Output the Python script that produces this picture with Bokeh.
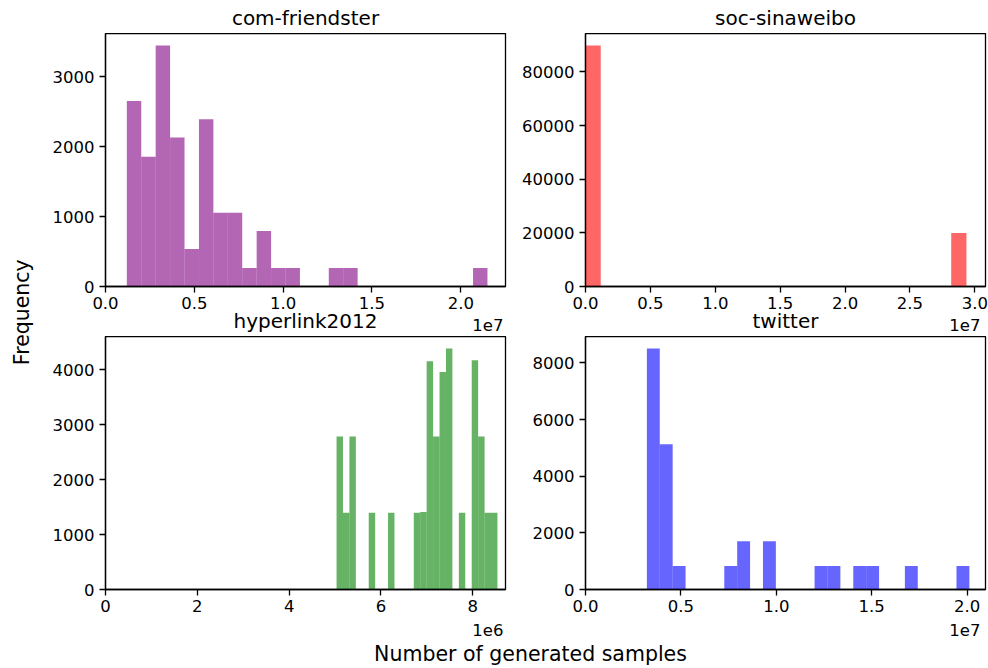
import numpy as np
from bokeh.plotting import figure
from bokeh.models import Range1d, FixedTicker, CustomJSTickFormatter, BasicTickFormatter
from bokeh.layouts import row, column
from bokeh.embed import file_html
from bokeh.resources import INLINE

FONT = "DejaVu Sans"

# ---------------- data ----------------
titles = ["com-friendster", "soc-sinaweibo", "hyperlink2012", "twitter"]
colors = ["purple", "red", "green", "blue"]

# histogram range (min / max sample) and bin counts (25 bins each)
friendster_min = 1.20e6
friendster_max = 2.150e7
friendster_counts = [2653, 1856, 3448, 2133, 536, 2392, 1057, 1057, 263, 794,
                     263, 263, 0, 0, 263, 263, 0, 0, 0, 0,
                     0, 0, 0, 0, 263]

sinaweibo_min = 0.0
sinaweibo_max = 2.935e7
sinaweibo_counts = [89840, 0, 0, 0, 0, 0, 0, 0, 0, 0,
                    0, 0, 0, 0, 0, 0, 0, 0, 0, 0,
                    0, 0, 0, 0, 19940]

hyperlink_min = 5.033e6
hyperlink_max = 8.538e6
hyperlink_counts = [2782, 1394, 2782, 0, 0, 1394, 0, 0, 1394, 0,
                    0, 0, 1394, 1412, 4152, 2782, 3958, 4383, 0, 1394,
                    0, 4170, 2782, 1394, 1394]

twitter_min = 3.217e6
twitter_max = 2.012e7
twitter_counts = [8508, 5128, 827, 0, 0, 0, 827, 1702, 0, 1702,
                  0, 0, 0, 827, 827, 0, 827, 827, 0, 0,
                  827, 0, 0, 0, 827]

# tick values
friendster_xticks = [0, 5e6, 1e7, 1.5e7, 2e7]
sinaweibo_xticks = [0, 5e6, 1e7, 1.5e7, 2e7, 2.5e7, 3e7]
hyperlink_xticks = [0, 2e6, 4e6, 6e6, 8e6]
twitter_xticks = [0, 5e6, 1e7, 1.5e7, 2e7]

friendster_yticks = [0, 1000, 2000, 3000]
sinaweibo_yticks = [0, 20000, 40000, 60000, 80000]
hyperlink_yticks = [0, 1000, 2000, 3000, 4000]
twitter_yticks = [0, 2000, 4000, 6000, 8000]

offsets = ["1e7", "1e7", "1e6", "1e7"]
scales = [1e7, 1e7, 1e6, 1e7]
decimals = [1, 1, 0, 1]

xlabel = "Number of generated samples"
ylabel = "Frequency"

TICK_FS = "16.5px"
TITLE_FS = "20px"
LABEL_FS = "20.5px"
FRAME_W, FRAME_H = 400, 253


def make_panel(lo, hi, counts, color, xticks, yticks, scale, dec, left, right):
    edges = np.linspace(lo, hi, len(counts) + 1)
    counts = np.asarray(counts, dtype=float)
    keep = counts > 0
    p = figure(frame_width=FRAME_W, frame_height=FRAME_H,
               min_border_left=left, min_border_right=right,
               min_border_top=0, min_border_bottom=30,
               x_range=Range1d(0, hi + 0.05 * (hi - lo)),
               y_range=Range1d(0, counts.max() * 1.05),
               toolbar_location=None, output_backend="svg")
    p.quad(left=edges[:-1][keep], right=edges[1:][keep],
           bottom=0, top=counts[keep],
           fill_color=color, fill_alpha=0.6, line_color=None)
    p.xgrid.visible = False
    p.ygrid.visible = False
    p.outline_line_color = "black"
    p.outline_line_width = 1.3
    p.outline_line_alpha = 1
    p.background_fill_color = "white"
    p.border_fill_color = None
    for ax in (p.xaxis[0], p.yaxis[0]):
        ax.axis_line_color = "black"
        ax.axis_line_width = 1.3
        ax.major_tick_line_color = "black"
        ax.major_tick_line_width = 1.3
        ax.major_tick_in = 0
        ax.major_tick_out = 6
        ax.minor_tick_in = 0
        ax.minor_tick_out = 0
        ax.major_label_text_font = FONT
        ax.major_label_text_font_size = TICK_FS
        ax.major_label_text_color = "black"
    p.xaxis[0].major_label_standoff = 4
    p.yaxis[0].major_label_standoff = 5
    p.xaxis[0].ticker = FixedTicker(ticks=xticks)
    p.yaxis[0].ticker = FixedTicker(ticks=yticks)
    p.xaxis[0].formatter = CustomJSTickFormatter(
        args=dict(s=scale, d=dec), code="return (tick / s).toFixed(d);")
    p.yaxis[0].formatter = BasicTickFormatter(use_scientific=False)
    return p


def text_fig(w, h, items, margin=None):
    """items: (x, y, text, size, align, angle) in pixels, y measured from the bottom,
    y being the vertical middle of the text."""
    kw = {}
    if margin is not None:
        kw["margin"] = margin
    f = figure(width=w, height=h, x_range=Range1d(0, w), y_range=Range1d(0, h),
               min_border=0, toolbar_location=None, output_backend="svg", **kw)
    f.axis.visible = False
    f.xgrid.visible = False
    f.ygrid.visible = False
    f.outline_line_color = None
    f.background_fill_color = None
    f.border_fill_color = None
    for (x, y, txt, size, align, ang) in items:
        f.text(x=[x], y=[y], text=[txt], angle=ang, text_align=align,
               text_baseline="middle", text_font={"value": FONT},
               text_font_size=size, text_color="black")
    return f


p1 = make_panel(friendster_min, friendster_max, friendster_counts, colors[0],
                friendster_xticks, friendster_yticks, scales[0], decimals[0], 65, 10)
p2 = make_panel(sinaweibo_min, sinaweibo_max, sinaweibo_counts, colors[1],
                sinaweibo_xticks, sinaweibo_yticks, scales[1], decimals[1], 70, 3)
p3 = make_panel(hyperlink_min, hyperlink_max, hyperlink_counts, colors[2],
                hyperlink_xticks, hyperlink_yticks, scales[2], decimals[2], 65, 10)
p4 = make_panel(twitter_min, twitter_max, twitter_counts, colors[3],
                twitter_xticks, twitter_yticks, scales[3], decimals[3], 70, 3)

W = 948
LX, RX = 265, 745          # centres of the two columns of frames
LR, RR = 463, 940          # right edges used by the offset texts

top_strip = text_fig(W, 33, [
    (LX, 15.6, titles[0], TITLE_FS, "center", 0.0),
    (RX, 15.6, titles[1], TITLE_FS, "center", 0.0),
])
# this strip overlaps the (transparent) lower border of the top row
mid_strip = text_fig(W, 29, [
    (LX, 15.6, titles[2], TITLE_FS, "center", 0.0),
    (RX, 15.6, titles[3], TITLE_FS, "center", 0.0),
    (LR, 11.7, offsets[0], TICK_FS, "right", 0.0),
    (RR, 11.7, offsets[1], TICK_FS, "right", 0.0),
], margin=(-9, 0, 0, 0))
bot_strip = text_fig(W, 49, [
    (LR, 38.7, offsets[2], TICK_FS, "right", 0.0),
    (RR, 38.7, offsets[3], TICK_FS, "right", 0.0),
    (490, 15, xlabel, LABEL_FS, "center", 0.0),
])
ylab = text_fig(40, 668, [(21, 668 - 311.7, ylabel, LABEL_FS, "center", np.pi / 2)])

layout = row(ylab, column(top_strip, row(p1, p2), mid_strip, row(p3, p4), bot_strip))

open("out.html", "w").write(file_html(layout, INLINE))
